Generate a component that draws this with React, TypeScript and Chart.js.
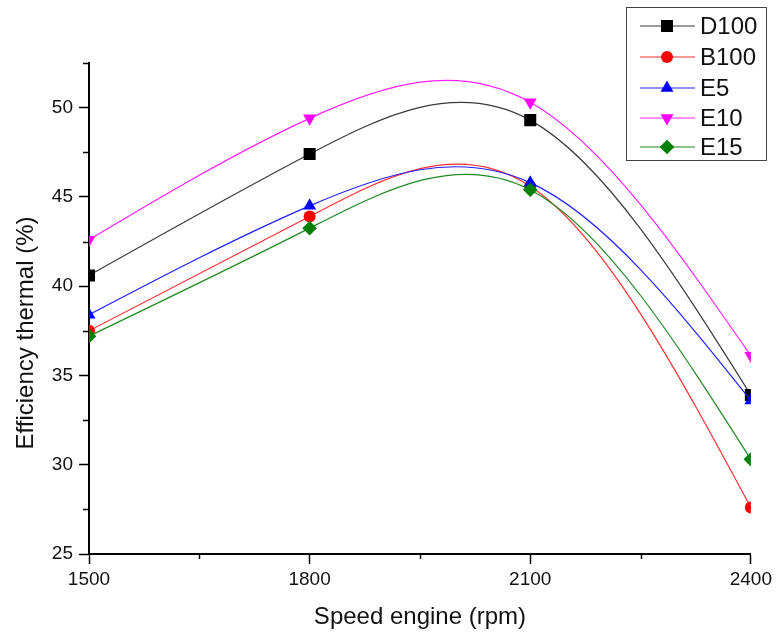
import React, { useEffect, useRef } from 'react';
import { Chart, registerables } from 'chart.js';
import { drawPoint } from 'chart.js/helpers';

Chart.register(...registerables);

// ---- data ----
const xValues = [1500, 1800, 2100, 2400];
const seriesLabels = ['D100', 'B100', 'E5', 'E10', 'E15'];
const d100 = [40.6, 47.4, 49.3, 33.9];
const b100 = [37.5, 43.9, 45.6, 27.6];
const e5 = [38.4, 44.5, 45.8, 33.6];
const e10 = [42.6, 49.4, 50.3, 36.1];
const e15 = [37.2, 43.25, 45.4, 30.3];
const xMajorTicks = [1500, 1800, 2100, 2400];
const xMinorTicks = [1650, 1950, 2250];
const yMajorTicks = [25, 30, 35, 40, 45, 50];
const yMinorTicks = [27.5, 32.5, 37.5, 42.5, 47.5, 52.5];
const xTitle = 'Speed engine (rpm)';
const yTitle = 'Efficiency thermal (%)';

const seriesValues = [d100, b100, e5, e10, e15];
const seriesColors = ['#000000', '#ff0000', '#0000ff', '#ff00ff', '#008000'];
const lineColors = ['#3a3a3a', '#ff3030', '#2020ff', '#ff20ff', '#208a20'];
const pointStyles = ['rect', 'circle', 'triangle', 'triangle', 'rectRot'];
const pointRotations = [0, 0, 0, 180, 0];
const pointRadii = [8.5, 6, 7.5, 7.5, 7.3];

const FONT = "'Liberation Sans', Arial, sans-serif";

// Natural cubic spline (as in the original plot), applied as the line's bezier control points
const splinePlugin = {
  id: 'naturalSpline',
  beforeDatasetsDraw(chart: any) {
    chart.data.datasets.forEach((_ds: any, di: number) => {
      const meta = chart.getDatasetMeta(di);
      const line = meta.dataset;
      const pts = meta.data;
      if (!line || !pts || pts.length < 3) return;
      if (typeof line.updateControlPoints === 'function') {
        line.updateControlPoints(chart.chartArea, meta.indexAxis || 'x');
      }
      const n = pts.length;
      const X = pts.map((p: any) => p.x);
      const Y = pts.map((p: any) => p.y);
      const h: number[] = [];
      for (let i = 0; i < n - 1; i++) h.push(X[i + 1] - X[i]);
      // tridiagonal solve for second derivatives M (natural: M0 = Mn-1 = 0)
      const M = new Array(n).fill(0);
      const m = n - 2;
      const a: number[] = [], b: number[] = [], c: number[] = [], r: number[] = [];
      for (let k = 0; k < m; k++) {
        const i = k + 1;
        a.push(h[i - 1]);
        b.push(2 * (h[i - 1] + h[i]));
        c.push(h[i]);
        r.push(6 * ((Y[i + 1] - Y[i]) / h[i] - (Y[i] - Y[i - 1]) / h[i - 1]));
      }
      for (let k = 1; k < m; k++) {
        const w = a[k] / b[k - 1];
        b[k] -= w * c[k - 1];
        r[k] -= w * r[k - 1];
      }
      const sol = new Array(m).fill(0);
      for (let k = m - 1; k >= 0; k--) {
        sol[k] = (r[k] - (k < m - 1 ? c[k] * sol[k + 1] : 0)) / b[k];
      }
      for (let k = 0; k < m; k++) M[k + 1] = sol[k];
      for (let i = 0; i < n - 1; i++) {
        const hi = h[i];
        const s = (Y[i + 1] - Y[i]) / hi;
        const d0 = s - (hi * (2 * M[i] + M[i + 1])) / 6;
        const d1 = s + (hi * (M[i] + 2 * M[i + 1])) / 6;
        pts[i].cp2x = X[i] + hi / 3;
        pts[i].cp2y = Y[i] + (d0 * hi) / 3;
        pts[i + 1].cp1x = X[i + 1] - hi / 3;
        pts[i + 1].cp1y = Y[i + 1] - (d1 * hi) / 3;
      }
      pts[0].cp1x = X[0];
      pts[0].cp1y = Y[0];
      pts[n - 1].cp2x = X[n - 1];
      pts[n - 1].cp2y = Y[n - 1];
    });
  },
};

const extrasPlugin = {
  id: 'extras',
  afterDraw(chart: any) {
    const ctx = chart.ctx as CanvasRenderingContext2D;
    const xs = chart.scales.x;
    const ys = chart.scales.y;
    const area = chart.chartArea;
    ctx.save();
    // minor ticks
    ctx.strokeStyle = '#000';
    ctx.lineWidth = 1.5;
    ctx.beginPath();
    xMinorTicks.forEach((v) => {
      const px = Math.round(xs.getPixelForValue(v)) + 0.5;
      ctx.moveTo(px, area.bottom);
      ctx.lineTo(px, area.bottom + 5);
    });
    yMinorTicks.forEach((v) => {
      const py = Math.round(ys.getPixelForValue(v)) + 0.5;
      ctx.moveTo(area.left, py);
      ctx.lineTo(area.left - 6, py);
    });
    ctx.stroke();

    // y axis title
    ctx.save();
    ctx.translate(33, 333);
    ctx.rotate(-Math.PI / 2);
    ctx.font = `24px ${FONT}`;
    ctx.fillStyle = '#111';
    ctx.textAlign = 'center';
    ctx.textBaseline = 'alphabetic';
    ctx.fillText(yTitle, 0, 0);
    ctx.restore();

    // legend
    const bx = 626.5, by = 7.5, bw = 140, bh = 153;
    ctx.fillStyle = '#ffffff';
    ctx.fillRect(bx, by, bw, bh);
    ctx.strokeStyle = '#444';
    ctx.lineWidth = 1;
    ctx.strokeRect(bx, by, bw, bh);
    const rowY = [26, 57, 88, 118, 147];
    chart.data.datasets.forEach((ds: any, i: number) => {
      const y = rowY[i];
      ctx.strokeStyle = ds.borderColor;
      ctx.lineWidth = 1.2;
      ctx.beginPath();
      ctx.moveTo(640, y);
      ctx.lineTo(695, y);
      ctx.stroke();
      ctx.fillStyle = ds.pointBackgroundColor;
      ctx.strokeStyle = ds.pointBorderColor;
      drawPoint(ctx, {
        pointStyle: ds.pointStyle,
        rotation: ds.pointRotation,
        radius: ds.pointRadius,
        borderWidth: 0,
      } as any, 667, y);
      ctx.fillStyle = '#111';
      ctx.font = `24px ${FONT}`;
      ctx.textAlign = 'left';
      ctx.textBaseline = 'middle';
      ctx.fillText(ds.label, 700, y + 1);
    });
    ctx.restore();
  },
};

export default function App() {
  const canvasRef = useRef<HTMLCanvasElement | null>(null);

  useEffect(() => {
    if (!canvasRef.current) return;
    const datasets = seriesLabels.map((label, i) => ({
      label,
      data: xValues.map((x, j) => ({ x, y: seriesValues[i][j] })),
      borderColor: lineColors[i],
      backgroundColor: seriesColors[i],
      pointBackgroundColor: seriesColors[i],
      pointBorderColor: seriesColors[i],
      pointBorderWidth: 0,
      pointStyle: pointStyles[i],
      pointRotation: pointRotations[i],
      pointRadius: pointRadii[i],
      borderWidth: 1.2,
      tension: 0.4,
      fill: false,
      clip: 0,
      order: seriesLabels.length - i,
    }));

    const chart = new Chart(canvasRef.current, {
      type: 'line',
      data: { datasets },
      options: {
        animation: false,
        responsive: true,
        maintainAspectRatio: false,
        layout: { padding: { left: 0, top: 63, right: 23, bottom: 0 } },
        plugins: {
          legend: { display: false },
          tooltip: { enabled: false },
        },
        scales: {
          x: {
            type: 'linear',
            min: 1500,
            max: 2400,
            afterBuildTicks: (scale: any) => {
              scale.ticks = xMajorTicks.map((v) => ({ value: v }));
            },
            afterFit: (scale: any) => {
              scale.height = 81;
            },
            grid: {
              drawOnChartArea: false,
              drawTicks: true,
              tickLength: 10,
              tickWidth: 1.5,
              tickColor: '#000',
              color: '#000',
            },
            border: { display: true, color: '#000', width: 2 },
            ticks: {
              color: '#111',
              font: { family: FONT, size: 19 },
              padding: 4,
              maxRotation: 0,
              callback: (v: any) => String(v),
            },
            title: {
              display: true,
              text: xTitle,
              color: '#111',
              font: { family: FONT, size: 24 },
              padding: { top: 0, bottom: 3 },
            },
          },
          y: {
            type: 'linear',
            min: 25,
            max: 52.5,
            afterBuildTicks: (scale: any) => {
              scale.ticks = yMajorTicks.map((v) => ({ value: v }));
            },
            afterFit: (scale: any) => {
              scale.width = 89;
            },
            grid: {
              drawOnChartArea: false,
              drawTicks: true,
              tickLength: 10,
              tickWidth: 1.5,
              tickColor: '#000',
              color: '#000',
            },
            border: { display: true, color: '#000', width: 2 },
            ticks: {
              color: '#111',
              font: { family: FONT, size: 19 },
              padding: 6,
              callback: (v: any) => String(v),
            },
          },
        },
      },
      plugins: [splinePlugin, extrasPlugin],
    } as any);

    return () => chart.destroy();
  }, []);

  return (
    <div style={{ position: 'absolute', left: 0, top: 0, width: 776, height: 635, background: '#ffffff' }}>
      <canvas ref={canvasRef} />
    </div>
  );
}
